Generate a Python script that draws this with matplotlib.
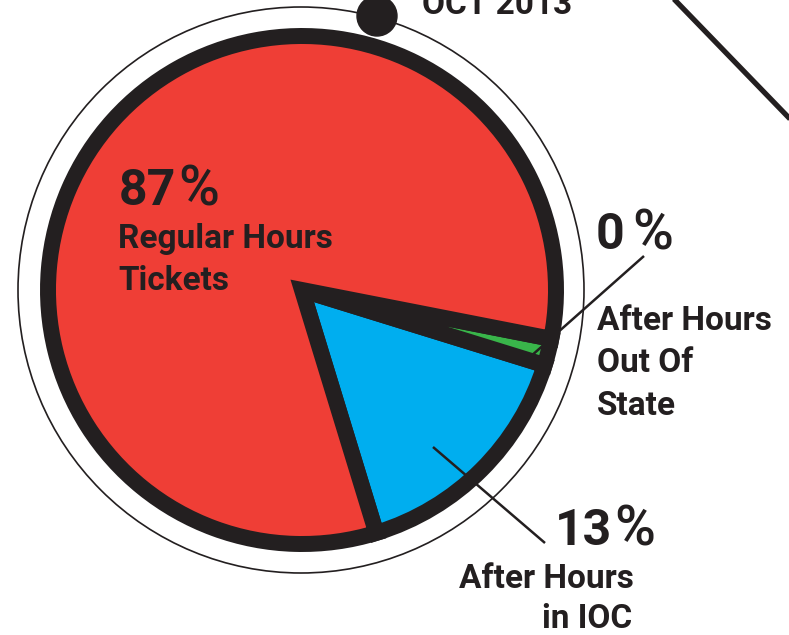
import matplotlib
matplotlib.use("Agg")
import matplotlib.pyplot as plt
from matplotlib.patches import Circle

# ---- data (shares read from the drawn wedges; labels as printed) ----
categories = ["After Hours in IOC", "After Hours Out Of State", "Regular Hours Tickets"]
shares = [15.5, 1.7, 82.8]
pct_numbers = ["13", "0", "87"]
colors = ["#00AEEF", "#39B54A", "#EF3E36"]
date_label = "OCT 2013"

W, H = 789, 635
DARK = "#231F20"
FONT = ["Roboto", "DejaVu Sans"]

def Y(y):
    return H - y

fig = plt.figure(figsize=(W / 100, H / 100), dpi=100)
ax = fig.add_axes([0, 0, 1, 1])

cx, cy = 302, Y(290)

# thin outer ring
ax.add_patch(Circle((301, Y(290)), 283, fill=False, ec=DARK, lw=1.2, zorder=1))

# pie
ax.pie(shares, colors=colors, startangle=-73, counterclock=True,
       center=(cx, cy), radius=254, frame=True,
       wedgeprops=dict(edgecolor=DARK, linewidth=11.5, joinstyle="miter", zorder=2))

# dot on ring
ax.add_patch(Circle((377, Y(16)), 20, color=DARK, zorder=3))

# leader lines
ax.plot([644, 530], [Y(256), Y(357)], color=DARK, lw=1.8, zorder=4, solid_capstyle="butt")
ax.plot([433, 545], [Y(447), Y(543)], color=DARK, lw=1.8, zorder=4, solid_capstyle="butt")
# top-right diagonal
ax.plot([672, 792], [Y(-3), Y(121)], color=DARK, lw=3.8, zorder=4, solid_capstyle="butt")

def txt(x, y, s, size, ha="left", weight="bold"):
    ax.text(x, Y(y), s, fontsize=size, fontweight=weight, color=DARK,
            ha=ha, va="baseline", family=FONT, zorder=5)

big = 36
small = 24

def pct(x_num, x_pct, y, num):
    txt(x_num, y, num, big)
    txt(x_pct, y, "%", 40, weight="medium")

txt(422, 14, date_label, 24)

pct(119, 178, 205, pct_numbers[2])
txt(118, 248, "Regular Hours", small)
txt(118, 290, "Tickets", small)

pct(596, 632, 249, pct_numbers[1])
txt(597, 330, "After Hours", small)
txt(597, 372, "Out Of", small)
txt(597, 415, "State", small)

pct(555, 614, 545, pct_numbers[0])
txt(459, 588, "After Hours", small)
txt(632, 628, "in IOC", small, ha="right")

ax.set_xlim(0, W)
ax.set_ylim(0, H)
ax.set_aspect("auto")
ax.axis("off")

fig.savefig("out.png", dpi=100)
